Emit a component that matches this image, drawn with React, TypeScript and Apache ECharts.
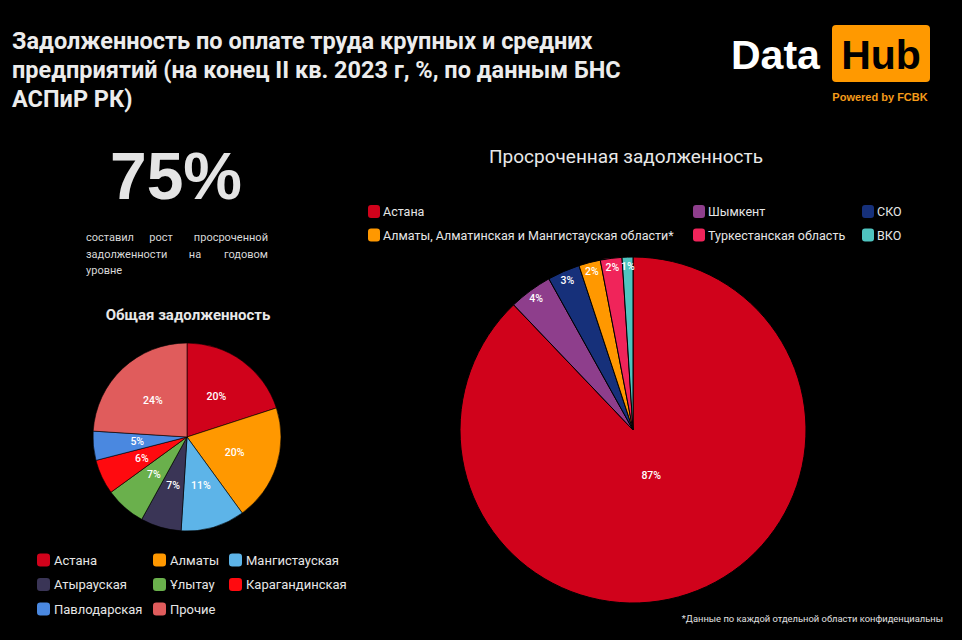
import React, { useEffect, useRef } from "react";
import * as echarts from "echarts";

// ---------- DATA ----------
const titleLines = [
  "Задолженность по оплате труда крупных и средних",
  "предприятий (на конец II кв. 2023 г, %, по данным БНС",
  "АСПиР РК)",
];
const bigNumber = "75%";
const noteLine1 = ["составил", "рост", "просроченной"];
const noteLine2 = ["задолженности", "на", "годовом"];
const noteLine3 = ["уровне"];
const totalTitle = "Общая задолженность";
const overdueTitle = "Просроченная задолженность";
const footnote = "*Данные по каждой отдельной области конфиденциальны";

const totalNames = [
  "Астана",
  "Алматы",
  "Мангистауская",
  "Атырауская",
  "Ұлытау",
  "Карагандинская",
  "Павлодарская",
  "Прочие",
];
const totalValues = [20, 20, 11, 7, 7, 6, 5, 24];
const totalColors = ["#d0021b", "#ff9800", "#5db4e8", "#3a3556", "#6ab04c", "#ff0a0f", "#4a88e0", "#e05c5c"];

const overdueNames = [
  "Астана",
  "Шымкент",
  "СКО",
  "Алматы, Алматинская и Мангистауская области*",
  "Туркестанская область",
  "ВКО",
];
const overdueValues = [87, 4, 3, 2, 2, 1];
const overdueColors = ["#d0021b", "#8e3e8c", "#16307a", "#ff9800", "#f0245a", "#4fc4c0"];

const totalLegendCols = [
  ["Астана", "Атырауская", "Павлодарская"],
  ["Алматы", "Ұлытау", "Прочие"],
  ["Мангистауская", "Карагандинская"],
];
const overdueLegendCols = [
  ["Астана", "Алматы, Алматинская и Мангистауская области*"],
  ["Шымкент", "Туркестанская область"],
  ["СКО", "ВКО"],
];

// ---------- LAYOUT ----------
const FONT = "Roboto, 'Noto Sans', sans-serif";
const totalLegendLeft = [37, 153, 229];
const overdueLegendLeft = [368, 693, 862];

export default function App() {
  const ref = useRef<HTMLDivElement>(null);

  useEffect(() => {
    if (!ref.current) return;
    const chart = echarts.init(ref.current, undefined, { renderer: "svg" });

    const noteStyle = { fill: "#d8d8d8", fontSize: 11, fontFamily: FONT };
    const transparent = "rgba(0,0,0,0)";

    const legends: any[] = [];
    totalLegendCols.forEach((col, i) => {
      legends.push({
        data: col,
        orient: "vertical",
        left: totalLegendLeft[i],
        top: 553.5,
        padding: 0,
        itemWidth: 13,
        itemHeight: 13,
        itemGap: 11.5,
        icon: "roundRect",
        selectedMode: false,
        itemStyle: { borderWidth: 0 },
        textStyle: { color: "#e6e6e6", fontSize: 13, fontFamily: FONT, padding: [0, 0, 0, -1] },
      });
    });
    overdueLegendCols.forEach((col, i) => {
      legends.push({
        data: col,
        orient: "vertical",
        left: overdueLegendLeft[i],
        top: 205,
        padding: 0,
        itemWidth: 12,
        itemHeight: 13,
        itemGap: 10.5,
        icon: "roundRect",
        selectedMode: false,
        itemStyle: { borderWidth: 0 },
        textStyle: { color: "#e6e6e6", fontSize: 12.5, fontFamily: FONT, padding: [0, 0, 0, -2] },
      });
    });

    const option: any = {
      backgroundColor: "#000",
      animation: false,
      legend: legends,
      series: [
        {
          type: "pie",
          center: [187, 437],
          radius: [0, 94],
          startAngle: 90,
          clockwise: true,
          silent: true,
          data: totalNames.map((n, i) => ({
            name: n,
            value: totalValues[i],
            itemStyle: { color: totalColors[i] },
          })),
          itemStyle: { borderColor: "#000", borderWidth: 0.6 },
          label: {
            show: true,
            position: "inside",
            formatter: "{c}%",
            color: "#fff",
            fontSize: 10.5,
            fontWeight: 500,
            fontFamily: FONT,
          },
          labelLine: { show: false },
        },
        {
          type: "pie",
          center: [633, 430],
          radius: [0, 173],
          startAngle: 90,
          silent: true,
          data: overdueNames.map((n, i) => ({
            name: n,
            value: overdueValues[i],
            itemStyle: { color: overdueColors[i] },
          })),
          itemStyle: { borderColor: "#000", borderWidth: 1 },
          label: { show: false },
          labelLine: { show: false },
        },
        {
          type: "pie",
          center: [633, 430],
          radius: [148, 173],
          startAngle: 90,
          silent: true,
          data: overdueNames.map((n, i) => ({
            name: n,
            value: overdueValues[i],
            itemStyle: { color: transparent, borderWidth: 0 },
            label: { show: i !== 0 },
          })),
          label: {
            position: "inside",
            formatter: "{c}%",
            color: "#fff",
            fontSize: 10.5,
            fontWeight: 500,
            fontFamily: FONT,
          },
          labelLine: { show: false },
        },
        {
          type: "pie",
          center: [633, 430],
          radius: [0, 92],
          startAngle: 90,
          silent: true,
          data: overdueNames.map((n, i) => ({
            name: n,
            value: overdueValues[i],
            itemStyle: { color: transparent, borderWidth: 0 },
            label: { show: i === 0 },
          })),
          label: {
            position: "inside",
            formatter: "{c}%",
            color: "#fff",
            fontSize: 10.5,
            fontWeight: 500,
            fontFamily: FONT,
          },
          labelLine: { show: false },
        },
      ],
      graphic: [
        {
          type: "text",
          left: 12,
          top: 26,
          style: {
            text: titleLines.join("\n"),
            fill: "#ececec",
            fontSize: 23.5,
            fontWeight: "bold",
            fontFamily: FONT,
            lineHeight: 29,
          },
        },
        // logo
        {
          type: "text",
          x: 731,
          y: 55,
          style: {
            text: "Data",
            fill: "#ffffff",
            fontSize: 41,
            fontWeight: "bold",
            fontFamily: "'Liberation Sans', Arial, sans-serif",
            verticalAlign: "middle",
          },
        },
        {
          type: "rect",
          shape: { x: 832, y: 25, width: 98, height: 57, r: 4 },
          style: { fill: "#ff9900" },
        },
        {
          type: "text",
          x: 881,
          y: 55,
          style: {
            text: "Hub",
            fill: "#000",
            fontSize: 41,
            fontWeight: "bold",
            fontFamily: "'Liberation Sans', Arial, sans-serif",
            align: "center",
            verticalAlign: "middle",
          },
        },
        {
          type: "text",
          x: 880,
          y: 97,
          style: {
            text: "Powered by FCBK",
            fill: "#f59b1a",
            fontSize: 11,
            fontWeight: "bold",
            fontFamily: "'Liberation Sans', Arial, sans-serif",
            align: "center",
            verticalAlign: "middle",
          },
        },
        // big number
        {
          type: "text",
          x: 176,
          y: 176,
          style: {
            text: bigNumber,
            fill: "#e4e4e4",
            fontSize: 66,
            fontWeight: "bold",
            fontFamily: "'Liberation Sans', Arial, sans-serif",
            align: "center",
            verticalAlign: "middle",
          },
        },
        // justified note
        { type: "text", x: 86, y: 237, style: { ...noteStyle, text: noteLine1[0], align: "left", verticalAlign: "middle" } },
        { type: "text", x: 161, y: 237, style: { ...noteStyle, text: noteLine1[1], align: "center", verticalAlign: "middle" } },
        { type: "text", x: 268, y: 237, style: { ...noteStyle, text: noteLine1[2], align: "right", verticalAlign: "middle" } },
        { type: "text", x: 86, y: 254, style: { ...noteStyle, text: noteLine2[0], align: "left", verticalAlign: "middle" } },
        { type: "text", x: 195, y: 254, style: { ...noteStyle, text: noteLine2[1], align: "center", verticalAlign: "middle" } },
        { type: "text", x: 268, y: 254, style: { ...noteStyle, text: noteLine2[2], align: "right", verticalAlign: "middle" } },
        { type: "text", x: 86, y: 270, style: { ...noteStyle, text: noteLine3[0], align: "left", verticalAlign: "middle" } },
        // sub titles
        {
          type: "text",
          x: 188,
          y: 315,
          style: {
            text: totalTitle,
            fill: "#e8e8e8",
            fontSize: 15,
            fontWeight: "bold",
            fontFamily: FONT,
            align: "center",
            verticalAlign: "middle",
          },
        },
        {
          type: "text",
          x: 626,
          y: 156,
          style: {
            text: overdueTitle,
            fill: "#e8e8e8",
            fontSize: 19,
            fontFamily: FONT,
            align: "center",
            verticalAlign: "middle",
          },
        },
        {
          type: "text",
          x: 943,
          y: 618,
          style: {
            text: footnote,
            fill: "#e0e0e0",
            fontSize: 9.4,
            fontFamily: FONT,
            align: "right",
            verticalAlign: "middle",
          },
        },
      ],
    };

    chart.setOption(option);
    return () => chart.dispose();
  }, []);

  return (
    <div
      ref={ref}
      style={{ position: "fixed", left: 0, top: 0, width: 962, height: 640, background: "#000" }}
    />
  );
}
